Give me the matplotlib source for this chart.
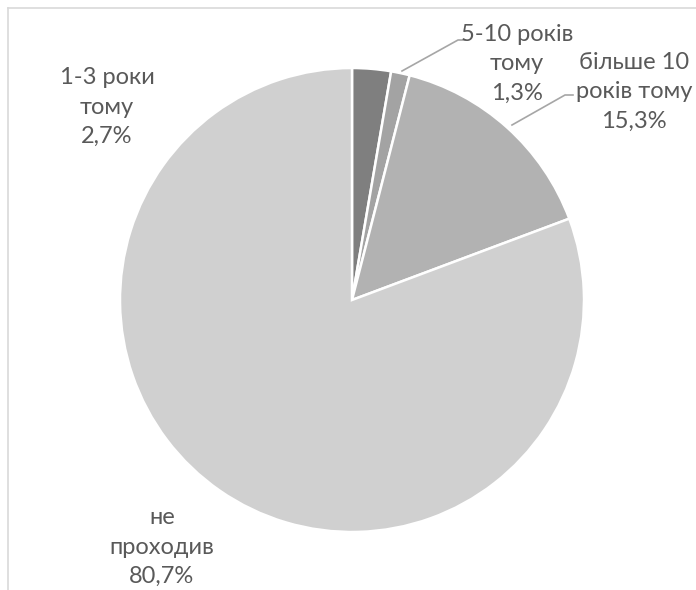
import matplotlib.pyplot as plt

labels = ["1-3 роки\nтому", "5-10 років\nтому", "більше 10\nроків тому", "не\nпроходив"]
shares = [2.7, 1.3, 15.3, 80.7]
colors = ["#7f7f7f", "#a3a3a3", "#b2b2b2", "#d0d0d0"]

W, H = 696, 590
fig = plt.figure(figsize=(W / 100, H / 100), dpi=100)
ax = fig.add_axes([0, 0, 1, 1])

# pie in pixel units, y measured from the bottom
cx, cy, r = 352, H - 300, 232
ax.pie(shares, colors=colors, startangle=90, counterclock=False,
       center=(cx, cy), radius=r, frame=True,
       wedgeprops=dict(edgecolor="white", linewidth=1.8))
ax.set_xlim(0, W)
ax.set_ylim(0, H)
ax.axis("off")

# chart border (top and left edges only show)
ax.plot([8, W], [H - 8, H - 8], color="#d9d9d9", lw=1.2)
ax.plot([8, 8], [H - 8, 0], color="#d9d9d9", lw=1.2)

# label centres, pixels from top-left
label_pos = [(107, 107), (517, 64), (634, 92), (162, 547)]
txt = "#595959"
for lab, val, (x, y) in zip(labels, shares, label_pos):
    s = lab + "\n" + f"{val:.1f}".replace(".", ",") + "%"
    ax.text(x, H - y, s, ha="center", va="center", fontsize=17,
            family="Lato", color=txt, linespacing=1.5)

# leader lines
for pts in ([(402, 71), (458, 40), (465, 40)],
            [(512, 125), (565, 95), (573, 95)]):
    xs = [p[0] for p in pts]
    ys = [H - p[1] for p in pts]
    ax.plot(xs, ys, color="#a6a6a6", lw=1.2)

fig.savefig("out.png", dpi=100)
